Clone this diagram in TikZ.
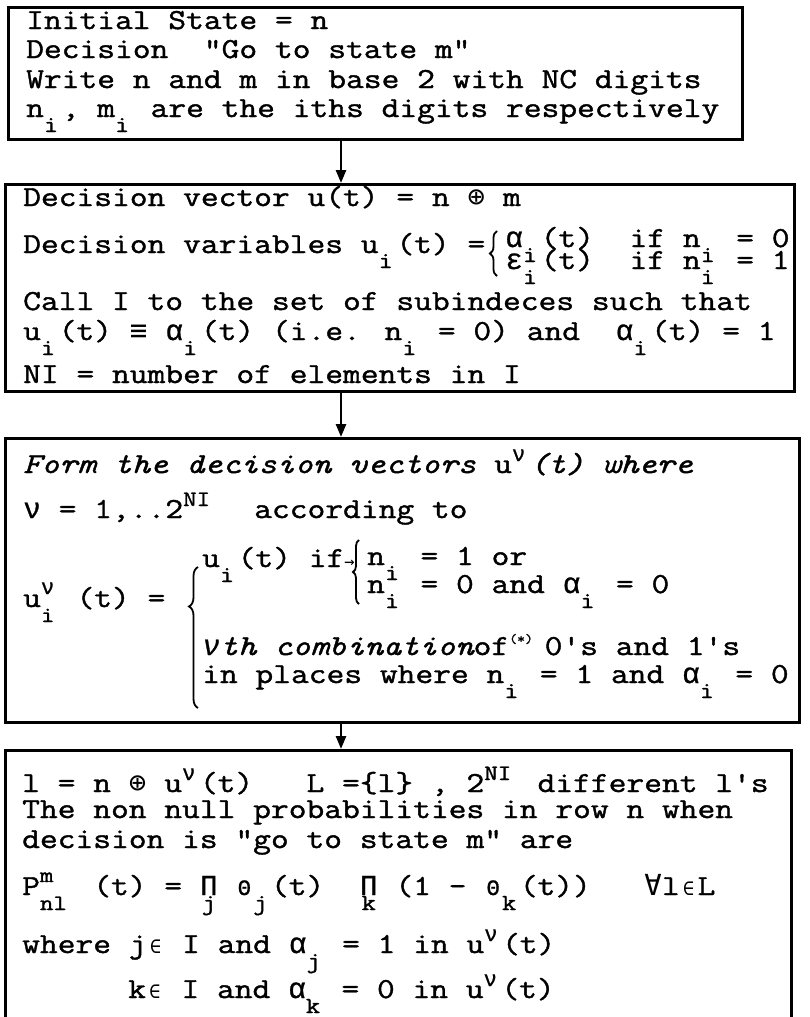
\documentclass[tikz,border=0pt]{standalone}
\usepackage{fontspec}
\usetikzlibrary{arrows.meta, decorations.pathreplacing}

\newfontfamily\tw[FakeStretch=1.19,FakeBold=1.4]{Latin Modern Mono}
\newfontfamily\gk[FakeBold=0.9]{Liberation Mono}
\newfontfamily\sy{DejaVu Sans Mono}
\newlength\cw
\AtBeginDocument{\settowidth{\cw}{\tw\fontsize{29}{30}\selectfont M}}
% one typewriter cell for a greek letter or a symbol
\newcommand\gr[1]{\makebox[\cw][c]{\gk #1}}
\newcommand\grs[1]{\makebox[\cw][c]{\gk\fontsize{22}{22}\selectfont #1}}
\newcommand\symb[1]{\makebox[\cw][c]{\sy #1}}
\newcommand\symbs[1]{\makebox[\cw][c]{\sy\fontsize{19}{19}\selectfont #1}}
% lowered and raised indices, typed half a line off
\newcommand\lo[2][1]{\raisebox{-15pt}{\makebox[#1\cw][l]{\fontsize{23}{23}\selectfont #2}}}
\newcommand\hi[2][1]{\raisebox{12pt}{\makebox[#1\cw][l]{\fontsize{22}{22}\selectfont #2}}}
\newcommand\hilo[3][1]{\makebox[#1\cw][l]{\fontsize{22}{22}\selectfont\rlap{\raisebox{13pt}{#2}}\raisebox{-15pt}{#3}}}
\newcommand\under[2]{\makebox[\cw][l]{\rlap{#1}\raisebox{-15pt}{\makebox[\cw][c]{\fontsize{23}{23}\selectfont #2}}}}

\begin{document}
\begin{tikzpicture}[x=1pt, y=-1pt,
    box/.style={draw, line width=2.6pt, inner sep=0pt, anchor=north west},
    ln/.style={anchor=base west, inner sep=0pt, font=\tw\fontsize{29}{30}\selectfont},
    flow/.style={line width=2.6pt, -{Triangle[length=13pt,width=10pt]}},
    tbrace/.style={decorate, line width=1.8pt, decoration={brace, amplitude=#1}}]
  \useasboundingbox (0,0) rectangle (809,1017);
  \clip (0,0) rectangle (809,1017);

  % the four boxes
  \node[box, minimum width=734pt, minimum height=132pt] (box1) at (7,6) {};
  \node[box, minimum width=789pt, minimum height=207pt] (box2) at (4,183) {};
  \node[box, minimum width=794pt, minimum height=284pt] (box3) at (4,437) {};
  \node[box, minimum width=786pt, minimum height=300pt] (box4) at (4,749) {};

  \coordinate (ax) at (341,0);
  \draw[flow] (box1.south -| ax) -- (box2.north -| ax);
  \draw[flow] (box2.south -| ax) -- (box3.north -| ax);
  \draw[flow] (box3.south -| ax) -- (box4.north -| ax);

  % box 1
  \node[ln] (t11) at (26,29) {Initial State = n};
  \node[ln] (t12) at (26,58) {Decision\ \ "Go to state m"};
  \node[ln] (t13) at (26,88) {Write n and m in base 2 with NC digits};
  \node[ln] (t14) at (26,117) {n\lo{i}, m\lo{i} are the iths digits respectively};

  % box 2
  \node[ln] (t21) at (23,206) {Decision vector u(t) = n \symb{⊕} m};
  \node[ln] (t22) at (23,253) {Decision variables u\lo{i}(t) =};
  \draw[tbrace=7pt] (497,276) -- (497,231);
  \node[ln] (t22a) at (505,247) {\gr{α}\lo{i}(t)\ \ if n\lo{i} = 0};
  \node[ln] (t22b) at (505,269) {\gr{ε}\lo{i}(t)\ \ if n\lo{i} = 1};
  \node[ln] (t23) at (23,310) {Call I to the set of subindeces such that};
  \node[ln] (t24) at (23,340) {u\lo{i}(t) \symb{≡} \gr{α}\lo{i}(t) (i.e. n\lo{i} = 0) and\ \ \gr{α}\lo{i}(t) = 1};
  \node[ln] (t25) at (23,383) {NI = number of elements in I};

  % box 3
  \node[ln] (t31) at (23,473) {\itshape Form the decision vectors \upshape u\hi{\gk ν}\itshape(t) where};
  \node[ln] (t32) at (23,518) {\gr{ν} = 1,..2\hi[2]{NI}\ \ according to};
  \node[ln] (t33) at (23,607) {u\hilo{\gk ν}{i} (t) =};
  \draw[tbrace=9pt, decoration={aspect=0.72}] (198,708) -- (198,567);
  \node[ln] (t34) at (202,567) {u\lo{i}(t) if\makebox[0.7\cw][l]{\sy\fontsize{17}{17}\selectfont →}};
  \draw[tbrace=6pt] (359,604) -- (359,540);
  \node[ln] (t35) at (367,565) {n\lo{i} = 1 or};
  \node[ln] (t36) at (367,593) {n\lo{i} = 0 and \gr{α}\lo{i} = 0};
  \node[ln] (t37) at (202,655) {{\itshape\gr{ν}th combination}of\hi{\fontsize{13}{13}\selectfont(*)} 0's and 1's};
  \node[ln] (t38) at (202,683) {in places where n\lo{i} = 1 and \gr{α}\lo{i} = 0};

  % box 4
  \node[ln] (t41) at (22,792) {l = n \symb{⊕} u\hi{\gk ν}(t)\ \ \ L =\{l\} , 2\hi[2]{NI} different l's};
  \node[ln] (t42) at (22,818) {The non null probabilities in row n when};
  \node[ln] (t43) at (22,848) {decision is "go to state m" are};
  \node[ln] (t44) at (22,895) {P\hilo[2]{m}{nl} (t) = \under{\gr{Π}}{j} \grs{Θ}\lo{j}(t)\ \ \under{\gr{Π}}{k} (1 - \grs{Θ}\lo{k}(t))\ \ \ \symb{∀}l\symbs{∈}L};
  \node[ln] (t45) at (22,953) {where j\symbs{∈} I and \gr{α}\lo{j} = 1 in u\hi{\gk ν}(t)};
  \node[ln] (t46) at (128,998) {k\symbs{∈} I and \gr{α}\lo{k} = 0 in u\hi{\gk ν}(t)};
\end{tikzpicture}
\end{document}
